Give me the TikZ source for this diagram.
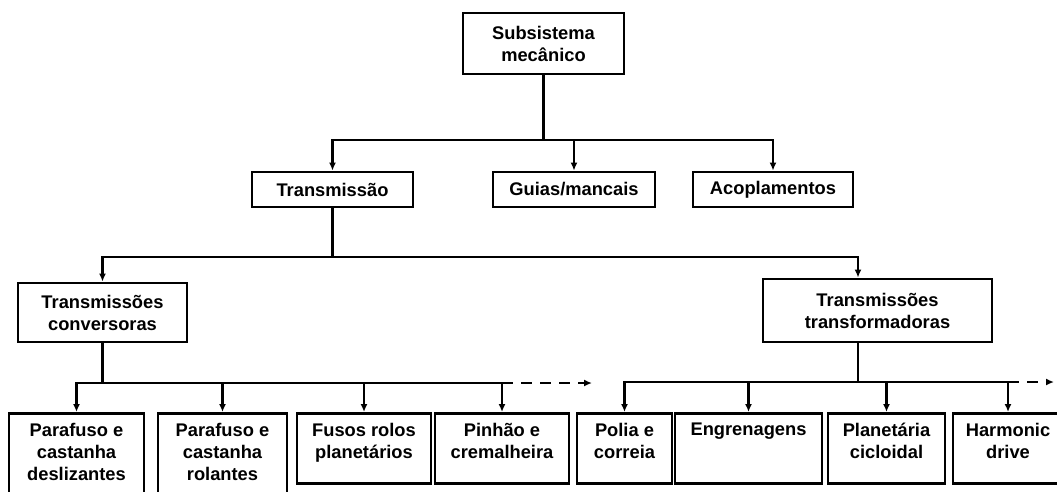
\documentclass[tikz,border=0pt]{standalone}
\usepackage{fontspec}
\setmainfont{Liberation Sans}
\usetikzlibrary{arrows.meta}
\tikzset{
  box/.style={draw, line width=2.8pt, inner sep=0pt, align=center,
    font=\fontsize{18.3}{22}\selectfont\bfseries},
  leaf/.style={draw, line width=2.8pt, inner sep=0pt, anchor=north, minimum height=#1},
  leaf/.default=70pt,
  leaftext/.style={anchor=north, yshift=-11pt, inner sep=0pt, align=center,
    font=\fontsize{18.3}{22}\selectfont\bfseries},
  link/.style={line width=2.1pt},
  arr/.style={line width=2.1pt, -{Latex[length=8pt,width=7pt]}},
  more/.style={arr, dash pattern=on 11pt off 8pt},
}
\begin{document}
\begin{tikzpicture}[x=1pt,y=-1pt]
  \useasboundingbox (0,0) rectangle (1057,491);
  \clip (0,0) rectangle (1057,491);
  \coordinate (bus1) at (0,140);
  \coordinate (bus2) at (0,257);
  \coordinate (bus3) at (0,383);
  \coordinate (bus4) at (0,382);
  \coordinate (endL) at (592,383);
  \coordinate (endR) at (1054,382);

  \node[box, minimum width=161pt, minimum height=61pt] (sub) at (543.5,43.5) {Subsistema\\mecânico};
  \node[box, minimum width=161pt, minimum height=35pt] (tra) at (332.5,189.5) {Transmissão};
  \node[box, minimum width=162pt, minimum height=35pt] (gui) at (574,189.5) {Guias/mancais};
  \node[box, minimum width=160pt, minimum height=35pt] (aco) at (773,189.5) {Acoplamentos};
  \node[box, minimum width=169pt, minimum height=59pt] (conv) at (102.5,312.5) {Transmissões\\conversoras};
  \node[box, minimum width=229pt, minimum height=63pt] (transf) at (877.5,310.5) {Transmissões\\transformadoras};

  \node[leaf=95pt, minimum width=135pt, label={[leaftext]north:{Parafuso e\\castanha\\deslizantes}}] (pcd) at (76.5,412) {};
  \node[leaf=95pt, minimum width=129pt, label={[leaftext]north:{Parafuso e\\castanha\\rolantes}}] (pcr) at (222.5,412) {};
  \node[leaf, minimum width=134pt, label={[leaftext]north:{Fusos rolos\\planetários}}] (frp) at (364,412) {};
  \node[leaf, minimum width=134pt, label={[leaftext]north:{Pinhão e\\cremalheira}}] (pcm) at (502,412) {};
  \node[leaf, minimum width=95pt, label={[leaftext]north:{Polia e\\correia}}] (pco) at (624.5,412) {};
  \node[leaf, minimum width=147pt, label={[leaftext]north:{Engrenagens}}] (eng) at (748.5,412) {};
  \node[leaf, minimum width=117pt, label={[leaftext]north:{Planetária\\cicloidal}}] (plc) at (886.5,412) {};
  \node[leaf, minimum width=110pt, label={[leaftext]north:{Harmonic\\drive}}] (hmd) at (1008,412) {};

  \draw[link] (sub.south) -- (sub.south |- bus1);
  \draw[arr] (sub.south |- bus1) -| (tra.north);
  \draw[arr] (sub.south |- bus1) -| (gui.north);
  \draw[arr] (sub.south |- bus1) -| (aco.north);

  \draw[link] (tra.south) -- (tra.south |- bus2);
  \draw[arr] (tra.south |- bus2) -| (conv.north);
  \draw[arr] (tra.south |- bus2) -| ([xshift=-19.5pt]transf.north);

  \draw[link] (conv.south) -- (conv.south |- bus3);
  \draw[arr] (conv.south |- bus3) -| (pcd.north);
  \draw[arr] (conv.south |- bus3) -| (pcr.north);
  \draw[arr] (conv.south |- bus3) -| (frp.north);
  \draw[arr] (conv.south |- bus3) -| (pcm.north);
  \draw[more] (pcm.north |- bus3) -- (endL);

  \draw[link] ([xshift=-19.5pt]transf.south) -- ([xshift=-19.5pt]transf.south |- bus4);
  \draw[arr] ([xshift=-19.5pt]transf.south |- bus4) -| (pco.north);
  \draw[arr] ([xshift=-19.5pt]transf.south |- bus4) -| (eng.north);
  \draw[arr] ([xshift=-19.5pt]transf.south |- bus4) -| (plc.north);
  \draw[arr] ([xshift=-19.5pt]transf.south |- bus4) -| (hmd.north);
  \draw[more] (hmd.north |- bus4) -- (endR);
\end{tikzpicture}
\end{document}
